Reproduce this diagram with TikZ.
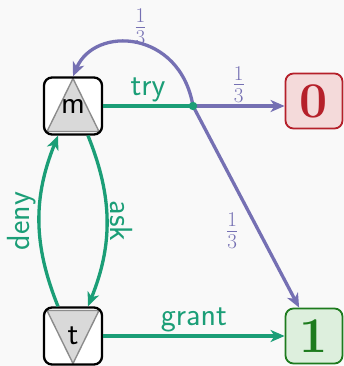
\RequirePackage{fix-cm}
\documentclass[tikz,border=0pt]{standalone}
\usepackage{fontspec}
\usetikzlibrary{arrows.meta}
\definecolor{bg}{HTML}{F9F9F9}
\definecolor{edgegreen}{HTML}{1B9E77}
\definecolor{edgepurple}{HTML}{7570B3}
\definecolor{losered}{HTML}{B5202A}
\definecolor{losefill}{HTML}{F4DADA}
\definecolor{wingreen}{HTML}{1E7B1E}
\definecolor{winfill}{HTML}{DDEFDD}
\definecolor{trigray}{HTML}{D9D9D9}
\definecolor{triline}{HTML}{8C8C8C}

\begin{document}
\begin{tikzpicture}[x=1pt,y=1pt,
  player/.style={draw=black, line width=2.3pt, rounded corners=8pt, fill=white,
    minimum width=58pt, minimum height=57pt, inner sep=0pt,
    font=\fontsize{32}{38}\selectfont\sffamily},
  sink/.style={line width=1.8pt, rounded corners=8pt,
    minimum width=57pt, minimum height=55pt, inner sep=0pt,
    font=\fontsize{50}{58}\selectfont\bfseries},
  maxtri/.style={path picture={\filldraw[sharp corners, fill=trigray, draw=triline, line width=1.4pt]
    ([yshift=-1pt]path picture bounding box.north)
    -- ([shift={(3pt,3pt)}]path picture bounding box.south west)
    -- ([shift={(-3pt,3pt)}]path picture bounding box.south east) -- cycle;}},
  mintri/.style={path picture={\filldraw[sharp corners, fill=trigray, draw=triline, line width=1.4pt]
    ([yshift=1pt]path picture bounding box.south)
    -- ([shift={(3pt,-3pt)}]path picture bounding box.north west)
    -- ([shift={(-3pt,-3pt)}]path picture bounding box.north east) -- cycle;}},
  tip/.style={-{Stealth[length=14pt,width=12pt,inset=4pt]}},
  gedge/.style={draw=edgegreen, line width=3.3pt},
  pedge/.style={draw=edgepurple, line width=3.3pt},
  glab/.style={inner sep=2pt, text=edgegreen, font=\fontsize{32}{38}\selectfont\sffamily},
  plab/.style={inner sep=2pt, text=edgepurple, font=\fontsize{30}{36}\selectfont},
]
\useasboundingbox[fill=bg] (0,0) rectangle (344,366);

% states
\node[player, maxtri] (m) at (73,260) {m};
\node[player, mintri] (t) at (73,30) {t};
\node[sink, draw=losered, fill=losefill, text=losered] (z) at (314,265) {0};
\node[sink, draw=wingreen, fill=winfill, text=wingreen] (o) at (314,30) {1};
\coordinate (d) at (193,260);

% random branches of "try"
\draw[pedge, tip] (d) -- (d -| z.west) node[plab, midway, above] {$\frac{1}{3}$};
\draw[pedge, tip] (d) .. controls (180,336) and (95,341) .. (m.north)
  node[plab, pos=0.5, above, inner sep=0pt, yshift=-3pt, xshift=4pt] {$\frac{1}{3}$};
\draw[pedge, tip] (d) -- (o) node[plab, pos=0.62, left=17pt] {$\frac{1}{3}$};

% player moves
\draw[gedge] (m) -- (d) node[glab, midway, above] {try};
\draw[gedge, tip] ([xshift=15pt]m.south) to[bend left=22]
  node[glab, midway, anchor=south, rotate=-90] {ask} ([xshift=15pt]t.north);
\draw[gedge, tip] ([xshift=-15pt]t.north) to[bend left=22]
  node[glab, midway, anchor=south, rotate=90] {deny} ([xshift=-15pt]m.south);
\draw[gedge, tip] (t) -- (o) node[glab, midway, above] {grant};

\fill[edgegreen] (d) circle (4.2pt);
\end{tikzpicture}
\end{document}
